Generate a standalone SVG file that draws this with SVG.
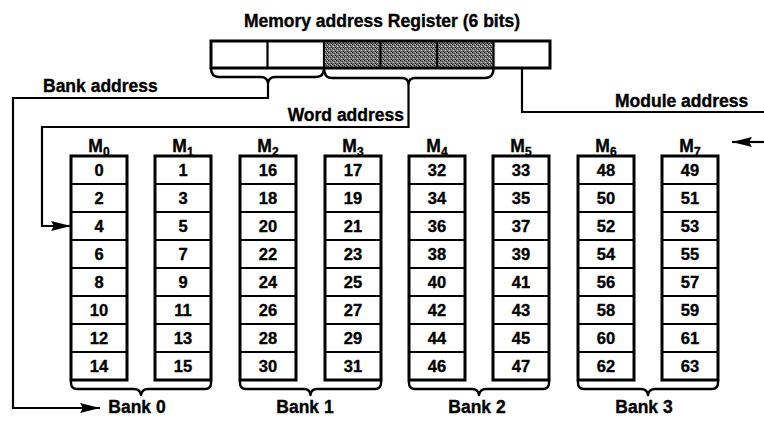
<svg xmlns="http://www.w3.org/2000/svg" width="764" height="421" viewBox="0 0 764 421">
  <style>
    .lbl { font-family: "Liberation Sans", Arial, sans-serif; font-weight: bold; font-size: 17.5px; fill: #000; stroke: #000; stroke-width: 0.35; }
    .num { font-family: "Liberation Sans", Arial, sans-serif; font-weight: bold; font-size: 16.5px; fill: #000; stroke: #000; stroke-width: 0.35; text-anchor: middle; }
    .mod { font-family: "Liberation Sans", Arial, sans-serif; font-weight: bold; font-size: 17.5px; fill: #000; stroke: #000; stroke-width: 0.35; text-anchor: middle; }
    .sub { font-size: 12px; }
    .box { fill: #fff; stroke: #000; stroke-width: 3; }
    .div { stroke: #000; stroke-width: 2.2; }
    .wire { fill: none; stroke: #000; stroke-width: 2.2; }
    .brace { fill: none; stroke: #000; stroke-width: 2.4; stroke-linejoin: round; }
  </style>
  <defs>
    <pattern id="stipple" width="4" height="4" patternUnits="userSpaceOnUse">
      <rect width="4" height="4" fill="#7a7a7a"/>
      <rect x="0" y="0" width="1" height="1" fill="#1a1a1a"/>
      <rect x="2" y="1" width="1" height="1" fill="#2a2a2a"/>
      <rect x="1" y="2" width="1" height="1" fill="#dcdcdc"/>
      <rect x="3" y="3" width="1" height="1" fill="#1a1a1a"/>
      <rect x="3" y="0" width="1" height="1" fill="#c4c4c4"/>
      <rect x="1" y="3" width="1" height="1" fill="#444"/>
    </pattern>
    <marker id="head" markerUnits="userSpaceOnUse" markerWidth="21" markerHeight="11" refX="20" refY="5.5" orient="auto">
      <path d="M0,0.5 L20,5.5 L0,10.5 L3,5.5 z" fill="#000"/>
    </marker>
  </defs>

  <!-- memory address register, six bit cells -->
  <g id="register">
    <text class="lbl" x="382" y="27" text-anchor="middle">Memory address Register (6 bits)</text>
    <rect x="324" y="41" width="169.5" height="27" fill="url(#stipple)"/>
    <rect x="211" y="41" width="339" height="27" fill="none" stroke="#000" stroke-width="3"/>
    <line class="div" x1="267.5" y1="41" x2="267.5" y2="68"/>
    <line class="div" x1="324" y1="41" x2="324" y2="68"/>
    <line class="div" x1="380.5" y1="41" x2="380.5" y2="68"/>
    <line class="div" x1="437" y1="41" x2="437" y2="68"/>
    <line class="div" x1="493.5" y1="41" x2="493.5" y2="68"/>
    <path class="brace" d="M211,68 Q211,77 219,77 L261,77 Q267,77 268,83 Q269,77 275,77 L316,77 Q324,77 324,68"/>
    <path class="brace" d="M324,68 Q324,78 332,78 L402,78 Q408,78 408.5,84 Q409,78 415,78 L485,78 Q493.5,78 493.5,68"/>
  </g>

  <!-- address field labels -->
  <g id="field-labels">
    <text class="lbl" x="43" y="92">Bank address</text>
    <text class="lbl" x="404" y="121" text-anchor="end">Word address</text>
    <text class="lbl" x="615" y="107">Module address</text>
  </g>

  <!-- connectors -->
  <g id="connectors">
    <path class="wire" d="M268,83 V98 H13 V408 H100" marker-end="url(#head)"/>
    <path class="wire" d="M408.5,84 V127 H42 V226 H71" marker-end="url(#head)"/>
    <path class="wire" d="M522,68 V112 H764"/>
    <path class="wire" d="M764,142 H732" marker-end="url(#head)"/>
  </g>

  <!-- memory modules M0..M7 -->
  <g id="module-0">
    <text class="mod" x="99" y="152">M<tspan class="sub" dy="4">0</tspan></text>
    <rect class="box" x="71" y="156" width="56" height="224"/>
    <path class="div" d="M71,184H127M71,212H127M71,240H127M71,268H127M71,296H127M71,324H127M71,352H127"/>
    <text class="num" x="99" y="176">0</text><text class="num" x="99" y="204">2</text>
    <text class="num" x="99" y="232">4</text><text class="num" x="99" y="260">6</text>
    <text class="num" x="99" y="288">8</text><text class="num" x="99" y="316">10</text>
    <text class="num" x="99" y="344">12</text><text class="num" x="99" y="372">14</text>
  </g>
  <g id="module-1">
    <text class="mod" x="183" y="152">M<tspan class="sub" dy="4">1</tspan></text>
    <rect class="box" x="155" y="156" width="56" height="224"/>
    <path class="div" d="M155,184H211M155,212H211M155,240H211M155,268H211M155,296H211M155,324H211M155,352H211"/>
    <text class="num" x="183" y="176">1</text><text class="num" x="183" y="204">3</text>
    <text class="num" x="183" y="232">5</text><text class="num" x="183" y="260">7</text>
    <text class="num" x="183" y="288">9</text><text class="num" x="183" y="316">11</text>
    <text class="num" x="183" y="344">13</text><text class="num" x="183" y="372">15</text>
  </g>
  <g id="module-2">
    <text class="mod" x="268" y="152">M<tspan class="sub" dy="4">2</tspan></text>
    <rect class="box" x="240" y="156" width="56" height="224"/>
    <path class="div" d="M240,184H296M240,212H296M240,240H296M240,268H296M240,296H296M240,324H296M240,352H296"/>
    <text class="num" x="268" y="176">16</text><text class="num" x="268" y="204">18</text>
    <text class="num" x="268" y="232">20</text><text class="num" x="268" y="260">22</text>
    <text class="num" x="268" y="288">24</text><text class="num" x="268" y="316">26</text>
    <text class="num" x="268" y="344">28</text><text class="num" x="268" y="372">30</text>
  </g>
  <g id="module-3">
    <text class="mod" x="353" y="152">M<tspan class="sub" dy="4">3</tspan></text>
    <rect class="box" x="325" y="156" width="56" height="224"/>
    <path class="div" d="M325,184H381M325,212H381M325,240H381M325,268H381M325,296H381M325,324H381M325,352H381"/>
    <text class="num" x="353" y="176">17</text><text class="num" x="353" y="204">19</text>
    <text class="num" x="353" y="232">21</text><text class="num" x="353" y="260">23</text>
    <text class="num" x="353" y="288">25</text><text class="num" x="353" y="316">27</text>
    <text class="num" x="353" y="344">29</text><text class="num" x="353" y="372">31</text>
  </g>
  <g id="module-4">
    <text class="mod" x="437" y="152">M<tspan class="sub" dy="4">4</tspan></text>
    <rect class="box" x="409" y="156" width="56" height="224"/>
    <path class="div" d="M409,184H465M409,212H465M409,240H465M409,268H465M409,296H465M409,324H465M409,352H465"/>
    <text class="num" x="437" y="176">32</text><text class="num" x="437" y="204">34</text>
    <text class="num" x="437" y="232">36</text><text class="num" x="437" y="260">38</text>
    <text class="num" x="437" y="288">40</text><text class="num" x="437" y="316">42</text>
    <text class="num" x="437" y="344">44</text><text class="num" x="437" y="372">46</text>
  </g>
  <g id="module-5">
    <text class="mod" x="521" y="152">M<tspan class="sub" dy="4">5</tspan></text>
    <rect class="box" x="493" y="156" width="56" height="224"/>
    <path class="div" d="M493,184H549M493,212H549M493,240H549M493,268H549M493,296H549M493,324H549M493,352H549"/>
    <text class="num" x="521" y="176">33</text><text class="num" x="521" y="204">35</text>
    <text class="num" x="521" y="232">37</text><text class="num" x="521" y="260">39</text>
    <text class="num" x="521" y="288">41</text><text class="num" x="521" y="316">43</text>
    <text class="num" x="521" y="344">45</text><text class="num" x="521" y="372">47</text>
  </g>
  <g id="module-6">
    <text class="mod" x="606" y="152">M<tspan class="sub" dy="4">6</tspan></text>
    <rect class="box" x="578" y="156" width="56" height="224"/>
    <path class="div" d="M578,184H634M578,212H634M578,240H634M578,268H634M578,296H634M578,324H634M578,352H634"/>
    <text class="num" x="606" y="176">48</text><text class="num" x="606" y="204">50</text>
    <text class="num" x="606" y="232">52</text><text class="num" x="606" y="260">54</text>
    <text class="num" x="606" y="288">56</text><text class="num" x="606" y="316">58</text>
    <text class="num" x="606" y="344">60</text><text class="num" x="606" y="372">62</text>
  </g>
  <g id="module-7">
    <text class="mod" x="690" y="152">M<tspan class="sub" dy="4">7</tspan></text>
    <rect class="box" x="662" y="156" width="56" height="224"/>
    <path class="div" d="M662,184H718M662,212H718M662,240H718M662,268H718M662,296H718M662,324H718M662,352H718"/>
    <text class="num" x="690" y="176">49</text><text class="num" x="690" y="204">51</text>
    <text class="num" x="690" y="232">53</text><text class="num" x="690" y="260">55</text>
    <text class="num" x="690" y="288">57</text><text class="num" x="690" y="316">59</text>
    <text class="num" x="690" y="344">61</text><text class="num" x="690" y="372">63</text>
  </g>

  <!-- banks: each brace groups two modules -->
  <g id="bank-0">
    <path class="brace" d="M71,380 V383 Q71,389 77,389 L134,389 Q140,389 141,395 Q142,389 148,389 L205,389 Q211,389 211,383 V380"/>
    <text class="lbl" x="137" y="413" text-anchor="middle" font-size="16.5">Bank 0</text>
  </g>
  <g id="bank-1">
    <path class="brace" d="M240,380 V383 Q240,389 246,389 L304,389 Q310,389 310.5,395 Q311,389 317,389 L375,389 Q381,389 381,383 V380"/>
    <text class="lbl" x="305" y="413" text-anchor="middle" font-size="16.5">Bank 1</text>
  </g>
  <g id="bank-2">
    <path class="brace" d="M409,380 V383 Q409,389 415,389 L472,389 Q478,389 479,395 Q480,389 486,389 L543,389 Q549,389 549,383 V380"/>
    <text class="lbl" x="477" y="413" text-anchor="middle" font-size="16.5">Bank 2</text>
  </g>
  <g id="bank-3">
    <path class="brace" d="M578,380 V383 Q578,389 584,389 L641,389 Q647,389 648,395 Q649,389 655,389 L712,389 Q718,389 718,383 V380"/>
    <text class="lbl" x="644" y="413" text-anchor="middle" font-size="16.5">Bank 3</text>
  </g>
</svg>
